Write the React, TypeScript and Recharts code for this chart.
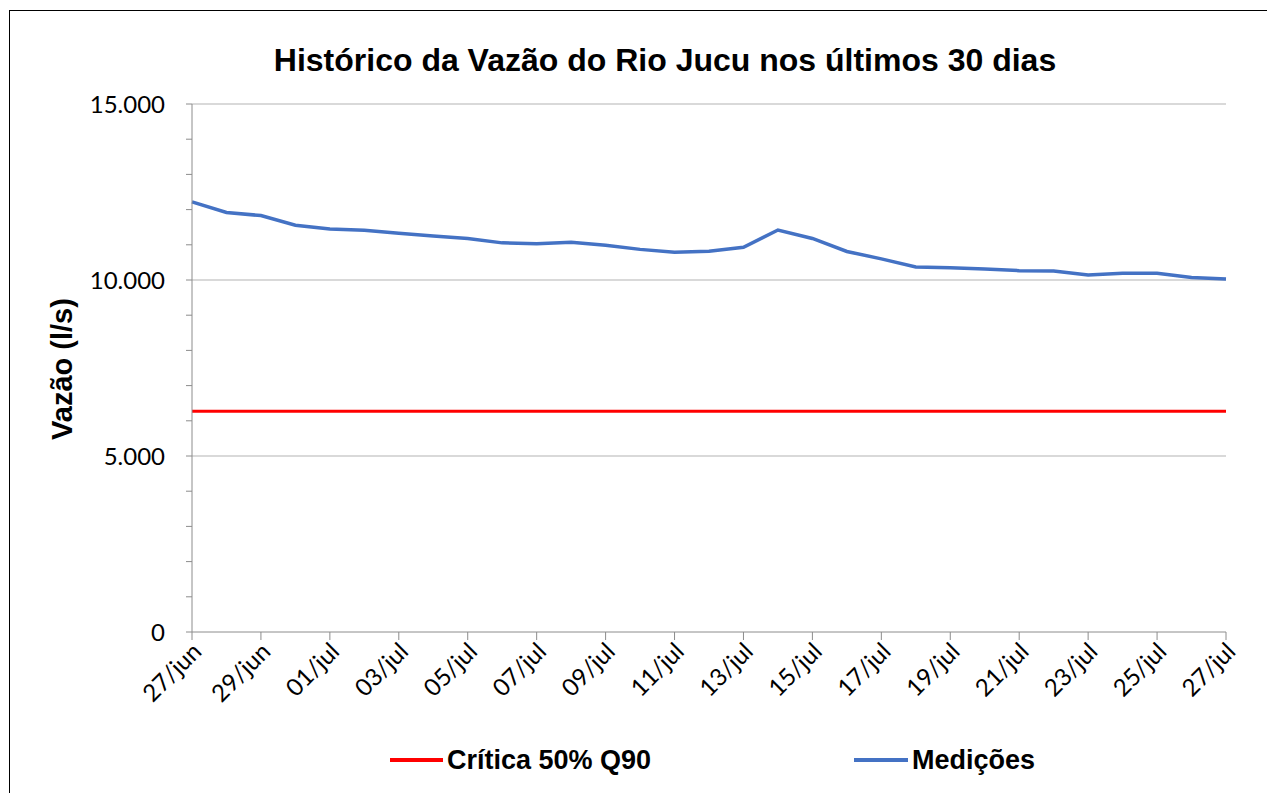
import React from 'react';
import { LineChart, Line, XAxis, YAxis, CartesianGrid } from 'recharts';

// dias (27/jun a 27/jul)
const dias = [
  '27/jun', '28/jun', '29/jun', '30/jun', '01/jul', '02/jul', '03/jul', '04/jul',
  '05/jul', '06/jul', '07/jul', '08/jul', '09/jul', '10/jul', '11/jul', '12/jul',
  '13/jul', '14/jul', '15/jul', '16/jul', '17/jul', '18/jul', '19/jul', '20/jul',
  '21/jul', '22/jul', '23/jul', '24/jul', '25/jul', '26/jul', '27/jul'
];

// vazão medida (l/s)
const medicoes = [
  12220, 11920, 11830, 11555, 11450, 11410, 11330, 11250,
  11180, 11055, 11030, 11070, 10990, 10870, 10790, 10820,
  10930, 11420, 11180, 10810, 10600, 10370, 10350, 10310,
  10265, 10255, 10140, 10195, 10190, 10070, 10030
];

// vazão crítica (50% da Q90)
const critica = [
  6270, 6270, 6270, 6270, 6270, 6270, 6270, 6270,
  6270, 6270, 6270, 6270, 6270, 6270, 6270, 6270,
  6270, 6270, 6270, 6270, 6270, 6270, 6270, 6270,
  6270, 6270, 6270, 6270, 6270, 6270, 6270
];

const yTicks = [0, 1000, 2000, 3000, 4000, 5000, 6000, 7000, 8000, 9000, 10000, 11000, 12000, 13000, 14000, 15000];
const yLabeled = [0, 5000, 10000, 15000];

const chartData = dias.map((d, i) => ({ dia: d, medicoes: medicoes[i], critica: critica[i] }));

const fmt = (v: number) => String(v).replace(/\B(?=(\d{3})+(?!\d))/g, '.');

const DateTick = (props: any) => {
  const { x, y, payload } = props;
  const ax = x + 11;
  const ay = y + 11;
  return (
    <text
      x={ax}
      y={ay}
      transform={`rotate(-45 ${ax} ${ay})`}
      textAnchor="end"
      fontFamily="Lato, sans-serif"
      fontSize={24}
      fill="#000"
    >
      {payload.value}
    </text>
  );
};

export default function App() {
  const W = 1267;
  const H = 793;
  return (
    <div style={{ position: 'fixed', left: 0, top: 0, width: W, height: H, overflow: 'hidden', background: '#fff' }}>
      <div style={{ position: 'absolute', left: 9, top: 10, width: 1400, height: 1000, border: '1px solid #000' }} />

      <div style={{
        position: 'absolute', left: 0, width: 1330, top: 41, textAlign: 'center',
        fontFamily: '"Liberation Sans", Arial, sans-serif', fontWeight: 'bold', fontSize: 32, lineHeight: '38px'
      }}>
        Histórico da Vazão do Rio Jucu nos últimos 30 dias
      </div>

      <div style={{
        position: 'absolute', left: 62, top: 369, width: 0, height: 0
      }}>
        <div style={{
          position: 'absolute', left: -150, top: -17, width: 300, textAlign: 'center',
          transform: 'rotate(-90deg)',
          fontFamily: '"Liberation Sans", Arial, sans-serif', fontWeight: 'bold', fontSize: 29, lineHeight: '34px'
        }}>
          Vazão (l/s)
        </div>
      </div>

      <div style={{ position: 'absolute', left: 0, top: 0 }}>
        <LineChart width={W} height={H} data={chartData} margin={{ top: 104, right: 41, left: 20, bottom: 101 }}>
          <CartesianGrid vertical={false} horizontalValues={[5000, 10000, 15000]} stroke="#b3b3b3" strokeWidth={1} />
          <XAxis
            dataKey="dia"
            interval={1}
            height={60}
            stroke="#8c8c8c"
            tickLine={{ stroke: '#8c8c8c' }}
            tickSize={8}
            tickMargin={2}
            tick={<DateTick />}
          />
          <YAxis
            width={172}
            domain={[0, 15000]}
            ticks={yTicks}
            interval={0}
            stroke="#8c8c8c"
            tickSize={6}
            tickMargin={21}
            tickFormatter={(v: number) => (yLabeled.includes(v) ? fmt(v) : '')}
            tick={{ fill: '#000', fontFamily: 'Lato, sans-serif', fontSize: 24 }}
          />
          <Line type="linear" dataKey="critica" stroke="#ff0000" strokeWidth={3} dot={false} isAnimationActive={false} />
          <Line type="linear" dataKey="medicoes" stroke="#4472c4" strokeWidth={3.5} dot={false} isAnimationActive={false} />
        </LineChart>
      </div>

      <div style={{ position: 'absolute', left: 390, top: 758, width: 53, height: 4, background: '#ff0000' }} />
      <div style={{
        position: 'absolute', left: 447, top: 744, fontFamily: '"Liberation Sans", Arial, sans-serif',
        fontWeight: 'bold', fontSize: 27, lineHeight: '32px'
      }}>
        Crítica 50% Q90
      </div>
      <div style={{ position: 'absolute', left: 854, top: 758, width: 54, height: 4, background: '#4472c4' }} />
      <div style={{
        position: 'absolute', left: 912, top: 744, fontFamily: '"Liberation Sans", Arial, sans-serif',
        fontWeight: 'bold', fontSize: 27, lineHeight: '32px'
      }}>
        Medições
      </div>
    </div>
  );
}
